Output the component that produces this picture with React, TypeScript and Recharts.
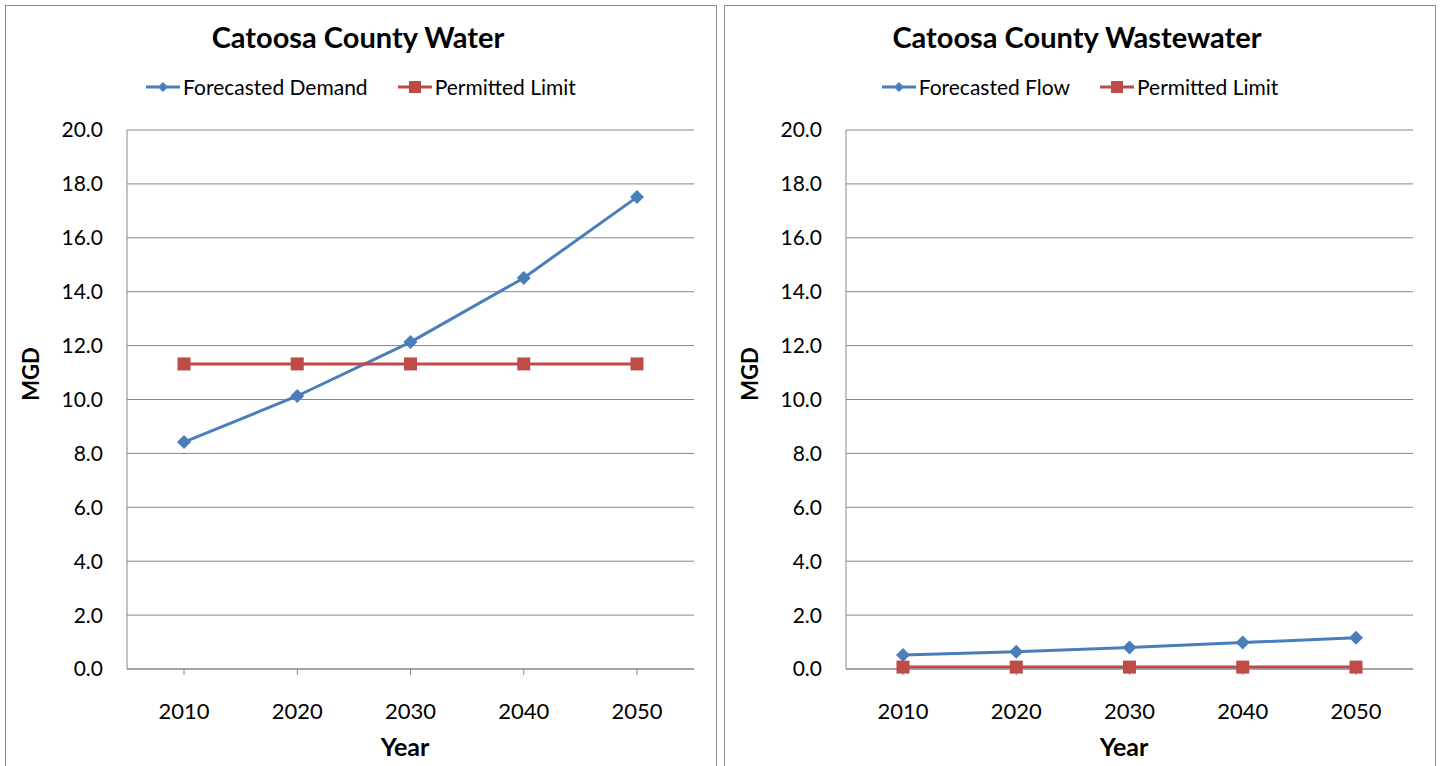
import { CartesianGrid, Line, LineChart, XAxis, YAxis } from 'recharts'

const years = ['2010', '2020', '2030', '2040', '2050']
const waterDemand = [8.42, 10.13, 12.13, 14.51, 17.51]
const waterLimit = [11.32, 11.32, 11.32, 11.32, 11.32]
const wastewaterFlow = [0.52, 0.64, 0.8, 0.98, 1.16]
const wastewaterLimit = [0.07, 0.07, 0.07, 0.07, 0.07]
const yTicks = [0, 2, 4, 6, 8, 10, 12, 14, 16, 18, 20]

const BLUE = '#4a7ebb'
const RED = '#be4b48'
const FONT = 'Lato, "Open Sans", sans-serif'

const Diamond = (props: any) => {
  const { cx, cy } = props
  if (cx == null || cy == null) return null
  const r = 7
  return <path d={`M${cx},${cy - r}L${cx + r},${cy}L${cx},${cy + r}L${cx - r},${cy}Z`} fill={BLUE} />
}

const Square = (props: any) => {
  const { cx, cy } = props
  if (cx == null || cy == null) return null
  return <rect x={cx - 6.5} y={cy - 6.5} width={13} height={13} fill={RED} />
}

function LegendItem({ color, label, square }: { color: string; label: string; square?: boolean }) {
  return (
    <div style={{ display: 'flex', alignItems: 'center' }}>
      <svg width={34} height={14}>
        <line x1={0} y1={7} x2={34} y2={7} stroke={color} strokeWidth={3} />
        {square ? (
          <rect x={11} y={1} width={12} height={12} fill={color} />
        ) : (
          <path d="M17,2L22,7L17,12L12,7Z" fill={color} />
        )}
      </svg>
      <span style={{ marginLeft: 3 }}>{label}</span>
    </div>
  )
}

type PanelProps = {
  left: number
  title: string
  seriesName: string
  forecast: number[]
  limit: number[]
}

function Panel({ left, title, seriesName, forecast, limit }: PanelProps) {
  const data = years.map((y, i) => ({ year: y, forecast: forecast[i], limit: limit[i] }))
  return (
    <div
      style={{
        position: 'absolute',
        left,
        top: 5,
        width: 710,
        height: 770,
        border: '1px solid #8c8c8c',
        background: '#fff',
        fontFamily: FONT,
        color: '#000',
      }}
    >
      <div style={{ position: 'absolute', top: 13, left: -3, width: 710, textAlign: 'center', fontSize: 29, fontWeight: 700 }}>
        {title}
      </div>
      <div
        style={{
          position: 'absolute',
          top: 68,
          left: 0,
          width: 710,
          display: 'flex',
          justifyContent: 'center',
          gap: 30,
          fontSize: 21,
        }}
      >
        <LegendItem color={BLUE} label={seriesName} />
        <LegendItem color={RED} label="Permitted Limit" square />
      </div>
      <div
        style={{
          position: 'absolute',
          left: 24,
          top: 368,
          transform: 'translate(-50%, -50%) rotate(-90deg)',
          fontSize: 22,
          fontWeight: 700,
        }}
      >
        MGD
      </div>
      <div
        style={{
          position: 'absolute',
          left: 399,
          top: 740,
          transform: 'translate(-50%, -50%)',
          fontSize: 25,
          fontWeight: 700,
        }}
      >
        Year
      </div>
      <div style={{ position: 'absolute', left: 0, top: 0 }}>
        <LineChart width={710} height={760} data={data} margin={{ top: 124, right: 22, bottom: 0, left: 0 }}>
          <CartesianGrid vertical={false} stroke="#868686" strokeWidth={1} />
          <XAxis
            dataKey="year"
            height={97}
            padding={{ left: 57, right: 57 }}
            tick={{ fill: '#000', fontSize: 22, fontFamily: FONT }}
            tickSize={6}
            tickMargin={28}
            axisLine={{ stroke: '#868686' }}
            tickLine={{ stroke: '#868686' }}
          />
          <YAxis
            width={121}
            domain={[0, 20]}
            ticks={yTicks}
            interval={0}
            tickFormatter={(v: number) => v.toFixed(1)}
            tick={{ fill: '#000', fontSize: 21, fontFamily: FONT }}
            tickSize={0}
            tickMargin={24}
            axisLine={{ stroke: '#868686' }}
          />
          <Line
            dataKey="forecast"
            stroke={BLUE}
            strokeWidth={3}
            dot={<Diamond />}
            isAnimationActive={false}
          />
          <Line
            dataKey="limit"
            stroke={RED}
            strokeWidth={3}
            dot={<Square />}
            isAnimationActive={false}
          />
        </LineChart>
      </div>
    </div>
  )
}

export default function App() {
  return (
    <div style={{ position: 'fixed', left: 0, top: 0, width: 1440, height: 766, background: '#fff', overflow: 'hidden' }}>
      <Panel left={5} title="Catoosa County Water" seriesName="Forecasted Demand" forecast={waterDemand} limit={waterLimit} />
      <Panel
        left={724}
        title="Catoosa County Wastewater"
        seriesName="Forecasted Flow"
        forecast={wastewaterFlow}
        limit={wastewaterLimit}
      />
    </div>
  )
}
